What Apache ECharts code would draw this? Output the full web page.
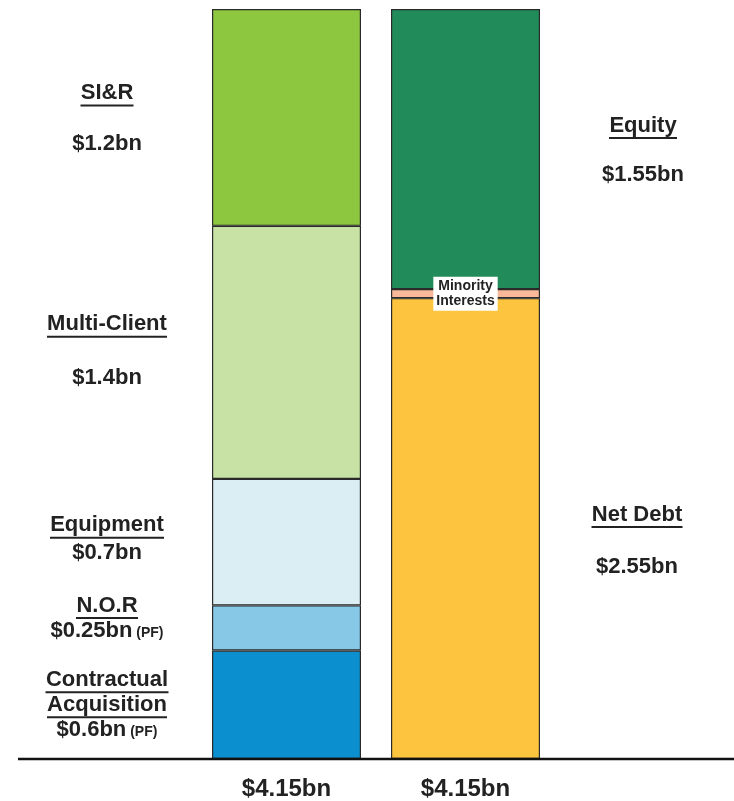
<!DOCTYPE html>
<html>
<head>
<meta charset="utf-8">
<script src="https://cdn.jsdelivr.net/npm/echarts@6/dist/echarts.min.js"></script>
<style>
  html, body { margin: 0; padding: 0; background: #fff; }
  #container { width: 734px; height: 801px; }
</style>
</head>
<body>
<div id="container"></div>
<script>
// data
var categories = ["Assets", "Financing"];
var assetNames = ["Contractual Acquisition", "N.O.R", "Equipment", "Multi-Client", "SI&R"];
var assetValues = [0.6, 0.25, 0.7, 1.4, 1.2];
var assetPF = [true, true, false, false, false];
var fundingNames = ["Net Debt", "Minority Interests", "Equity"];
var fundingValues = [2.55, 0.05, 1.55];

// styles
var assetColors = ["#0B8FCF", "#86C8E6", "#DAEEF3", "#C8E2A5", "#8DC63F"];
var fundingColors = ["#FDC43F", "#F7B999", "#218C5A"];
// label placement: dx from bar left edge, dy shift, gap between title and value
var assetLayout = [
  { dx: -105, dy: 0, gap: 0, wrap: true },
  { dx: -105, dy: -10, gap: 0 },
  { dx: -105, dy: -3, gap: 3 },
  { dx: -105, dy: -1, gap: 29 },
  { dx: -105, dy: 1, gap: 26 }
];
var fundingLayout = [
  { dx: 246, dy: 12, gap: 27 },
  null,
  { dx: 252, dy: 1, gap: 24 }
];

var textColor = "#222";
var fontFamily = '"Liberation Sans", Arial, sans-serif';

var ctx = document.createElement("canvas").getContext("2d");
ctx.font = "bold 22px " + fontFamily;
function textW(s) {
  return Math.ceil(ctx.measureText(s).width);
}

function buildLabel(name, value, pf, lay) {
  var rich = {
    t: { fontSize: 22, fontWeight: "bold", lineHeight: 22, color: textColor, align: "center", fontFamily: fontFamily },
    v: { fontSize: 22, fontWeight: "bold", lineHeight: 22, color: textColor, align: "center", fontFamily: fontFamily },
    pf: { fontSize: 14, fontWeight: "bold", color: textColor, fontFamily: fontFamily, lineHeight: 22, padding: [5, 0, 0, 0] },
    g: { height: lay.gap, lineHeight: lay.gap }
  };
  var titles = lay.wrap ? name.split(" ") : [name];
  var parts = [];
  titles.forEach(function (t, i) {
    rich["u" + i] = { width: textW(t), height: 2, lineHeight: 3, backgroundColor: textColor, align: "center" };
    parts.push("{t|" + t + "}", "{u" + i + "|}");
  });
  if (lay.gap) parts.push("{g|}");
  parts.push("{v|$" + value + "bn}" + (pf ? "{pf| (PF)}" : ""));
  return {
    show: true,
    position: [lay.dx, "50%"],
    offset: [0, lay.dy],
    align: "center",
    verticalAlign: "middle",
    formatter: parts.join("\n"),
    rich: rich
  };
}

var totals = [
  assetValues.reduce(function (a, b) { return a + b; }, 0),
  fundingValues.reduce(function (a, b) { return a + b; }, 0)
];

var series = [];
assetNames.forEach(function (name, i) {
  series.push({
    name: name,
    type: "bar",
    stack: "total",
    barWidth: 149,
    data: [assetValues[i], "-"],
    itemStyle: { color: assetColors[i], borderColor: "#2a2a2a", borderWidth: 1.2 },
    label: buildLabel(name, assetValues[i], assetPF[i], assetLayout[i])
  });
});
fundingNames.forEach(function (name, i) {
  var lay = fundingLayout[i];
  series.push({
    name: name,
    type: "bar",
    stack: "total",
    barWidth: 149,
    data: ["-", fundingValues[i]],
    itemStyle: { color: fundingColors[i], borderColor: "#2a2a2a", borderWidth: 1.2 },
    label: lay ? buildLabel(name, fundingValues[i], false, lay) : {
      show: true,
      position: "inside",
      formatter: name.split(" ").join("\n"),
      fontSize: 14,
      fontWeight: "bold",
      lineHeight: 15,
      color: textColor,
      fontFamily: fontFamily,
      backgroundColor: "#fff",
      padding: [2, 3]
    }
  });
});

var chartDom = document.getElementById("container");
var myChart = echarts.init(chartDom);
var option = {
  animation: false,
  backgroundColor: "#fff",
  textStyle: { fontFamily: fontFamily },
  grid: { left: 197, width: 358, top: 9, bottom: 42 },
  xAxis: {
    type: "category",
    data: categories,
    axisLine: { show: false },
    axisTick: { show: false },
    axisLabel: {
      margin: 18,
      fontSize: 24,
      fontWeight: "bold",
      color: textColor,
      formatter: function (value, idx) {
        return "$" + totals[idx].toFixed(2) + "bn";
      }
    }
  },
  yAxis: {
    type: "value",
    min: 0,
    max: 4.15,
    show: false
  },
  series: series
};
myChart.setOption(option);

var y0 = myChart.convertToPixel({ yAxisIndex: 0 }, 0);
myChart.setOption({
  graphic: [{
    type: "line",
    z: 10,
    shape: { x1: 18, y1: y0, x2: 734, y2: y0 },
    style: { stroke: "#111", lineWidth: 2.5 }
  }]
});
</script>
</body>
</html>
